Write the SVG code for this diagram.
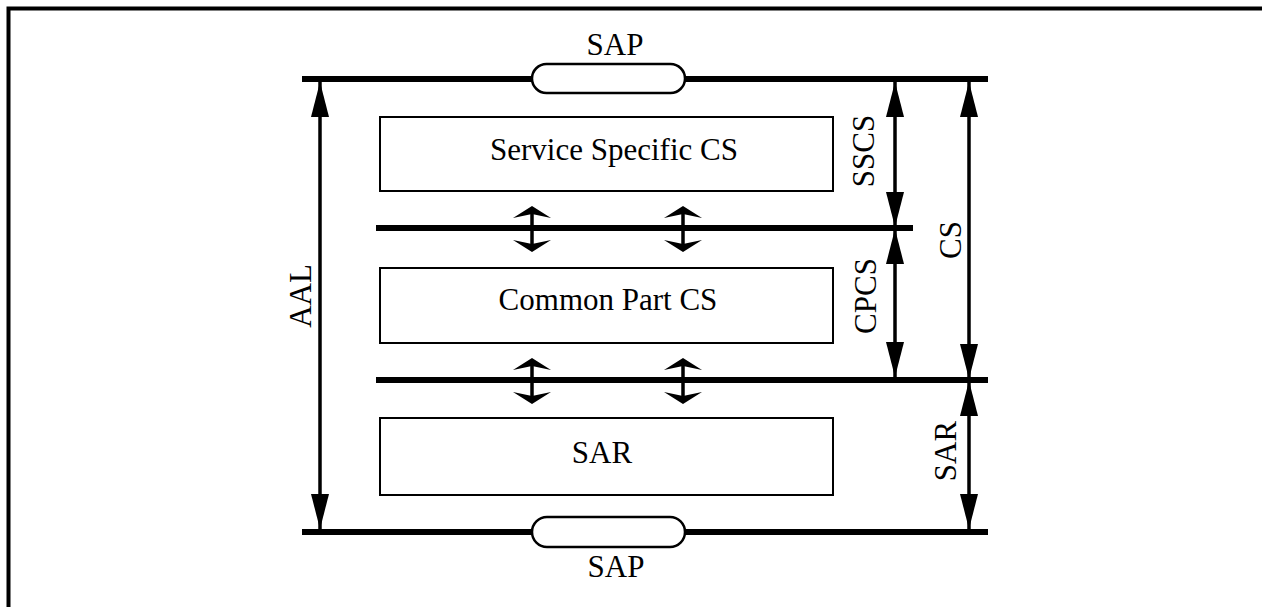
<svg xmlns="http://www.w3.org/2000/svg" width="1262" height="607" viewBox="0 0 1262 607">
<style>
.bar{stroke:#000;stroke-width:6;fill:none}
.box{fill:#fff;stroke:#000;stroke-width:2}
.pill{fill:#fff;stroke:#000;stroke-width:2.5}
.dim{stroke:#000;stroke-width:3.5;fill:none}
.t{font-family:"Liberation Serif","Times New Roman",serif;font-size:31px;fill:#000}
.head{fill:#000}
</style>
<defs>
<marker id="ah" markerUnits="userSpaceOnUse" markerWidth="36" markerHeight="18" refX="35" refY="9" orient="auto-start-reverse" viewBox="0 0 36 18">
<path d="M0,0 L35,9 L0,18 Z" class="head"/>
</marker>
</defs>
<rect x="0" y="0" width="1262" height="607" fill="#fff"/>
<path d="M8.5,607 V8.5 H1262" fill="none" stroke="#000" stroke-width="4"/>
<g id="lines">
<line class="bar" x1="302" y1="79" x2="988" y2="79"/>
<line class="bar" x1="376" y1="228" x2="913" y2="228"/>
<line class="bar" x1="376" y1="380" x2="988" y2="380"/>
<line class="bar" x1="302" y1="532" x2="988" y2="532"/>
</g>
<g id="sap-top">
<rect class="pill" x="532" y="64" width="153" height="29" rx="14.5"/>
<text class="t" x="615" y="55" text-anchor="middle">SAP</text>
</g>
<g id="sap-bottom">
<rect class="pill" x="532" y="517" width="153" height="30" rx="15"/>
<text class="t" x="616" y="577" text-anchor="middle">SAP</text>
</g>
<g id="sscs-box">
<rect class="box" x="380" y="117" width="453" height="74"/>
<text class="t" x="614" y="160" text-anchor="middle">Service Specific CS</text>
</g>
<g id="cpcs-box">
<rect class="box" x="380" y="268" width="453" height="75"/>
<text class="t" x="608" y="310" text-anchor="middle">Common Part CS</text>
</g>
<g id="sar-box">
<rect class="box" x="380" y="418" width="453" height="77"/>
<text class="t" x="602" y="463" text-anchor="middle">SAR</text>
</g>
<g id="connectors">
<line class="dim" x1="320" y1="82" x2="320" y2="529" marker-start="url(#ah)" marker-end="url(#ah)"/>
<line class="dim" x1="895" y1="82" x2="895" y2="227" marker-start="url(#ah)" marker-end="url(#ah)"/>
<line class="dim" x1="895" y1="229" x2="895" y2="377" marker-start="url(#ah)" marker-end="url(#ah)"/>
<line class="dim" x1="969" y1="82" x2="969" y2="379" marker-start="url(#ah)" marker-end="url(#ah)"/>
<line class="dim" x1="969" y1="381" x2="969" y2="529" marker-start="url(#ah)" marker-end="url(#ah)"/>
<g id="small-arrows">
<line class="dim" x1="532" y1="212" x2="532" y2="246"/>
<path class="head" d="M532,206 L551,218 L532,214 L513,218 Z"/>
<path class="head" d="M532,252 L551,240 L532,244 L513,240 Z"/>
<line class="dim" x1="683" y1="212" x2="683" y2="246"/>
<path class="head" d="M683,206 L702,218 L683,214 L664,218 Z"/>
<path class="head" d="M683,252 L702,240 L683,244 L664,240 Z"/>
<line class="dim" x1="532" y1="364" x2="532" y2="398"/>
<path class="head" d="M532,358 L551,370 L532,366 L513,370 Z"/>
<path class="head" d="M532,404 L551,392 L532,396 L513,392 Z"/>
<line class="dim" x1="683" y1="364" x2="683" y2="398"/>
<path class="head" d="M683,358 L702,370 L683,366 L664,370 Z"/>
<path class="head" d="M683,404 L702,392 L683,396 L664,392 Z"/>
</g>
</g>
<g id="labels">
<text class="t" transform="translate(311,296) rotate(-90)" text-anchor="middle">AAL</text>
<text class="t" transform="translate(874,151) rotate(-90)" text-anchor="middle">SSCS</text>
<text class="t" transform="translate(876,296) rotate(-90)" text-anchor="middle">CPCS</text>
<text class="t" transform="translate(961,240) rotate(-90)" text-anchor="middle">CS</text>
<text class="t" transform="translate(956,451) rotate(-90)" text-anchor="middle">SAR</text>
</g>
</svg>
